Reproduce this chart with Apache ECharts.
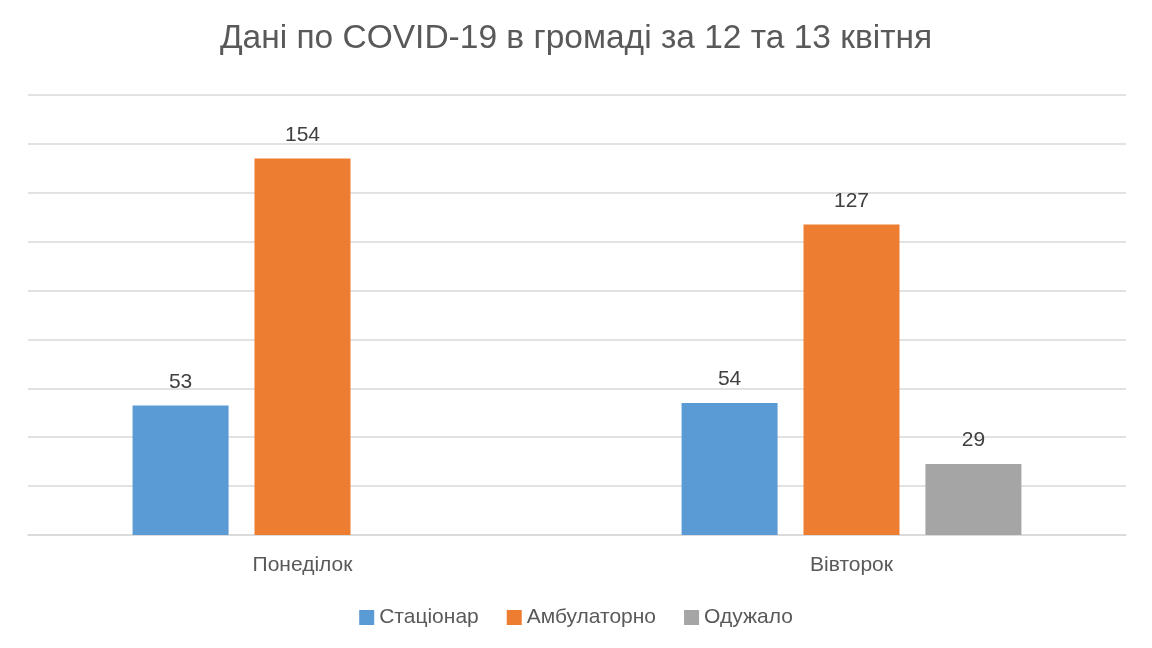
<!DOCTYPE html>
<html><head><meta charset="utf-8">
<script src="https://cdn.jsdelivr.net/npm/echarts@6/dist/echarts.min.js"></script>
<style>html,body{margin:0;padding:0;background:#fff}#c{width:1152px;height:648px}</style>
</head><body><div id="c"></div>
<script>
const categories = ['Понеділок', 'Вівторок'];
const seriesNames = ['Стаціонар', 'Амбулаторно', 'Одужало'];
const stacionar = [53, 54];
const ambulatorno = [154, 127];
const oduzhalo = [null, 29];
const colors = ['#5B9BD5', '#ED7D31', '#A5A5A5'];
const font = 'Liberation Sans';
const chart = echarts.init(document.getElementById('c'));
const mk = (name, data, i) => ({
  name, type: 'bar', data, barWidth: 96, barGap: '27%',
  itemStyle: { color: colors[i] },
  label: { show: true, position: 'top', distance: 13, color: '#404040', fontSize: 21, fontFamily: font },
  emphasis: { disabled: true }
});
chart.setOption({
  animation: false,
  title: { text: 'Дані по COVID-19 в громаді за 12 та 13 квітня', left: 'center', top: 17,
    textStyle: { fontFamily: font, fontSize: 33.5, fontWeight: 'normal', color: '#595959' } },
  legend: { bottom: 15, itemWidth: 15, itemHeight: 15, itemGap: 28, icon: 'rect',
    textStyle: { fontFamily: font, fontSize: 21, color: '#595959' } },
  grid: { left: 28, right: 26, top: 95, bottom: 113 },
  xAxis: { type: 'category', data: categories,
    axisLine: { lineStyle: { color: '#D9D9D9', width: 1.5 } }, axisTick: { show: false },
    axisLabel: { fontFamily: font, fontSize: 21, color: '#595959', margin: 20 } },
  yAxis: { type: 'value', min: 0, max: 180, interval: 20, axisLabel: { show: false },
    axisLine: { show: false }, axisTick: { show: false },
    splitLine: { lineStyle: { color: '#D9D9D9', width: 1.5 } } },
  series: [mk(seriesNames[0], stacionar, 0), mk(seriesNames[1], ambulatorno, 1), mk(seriesNames[2], oduzhalo, 2)]
});
</script></body></html>
